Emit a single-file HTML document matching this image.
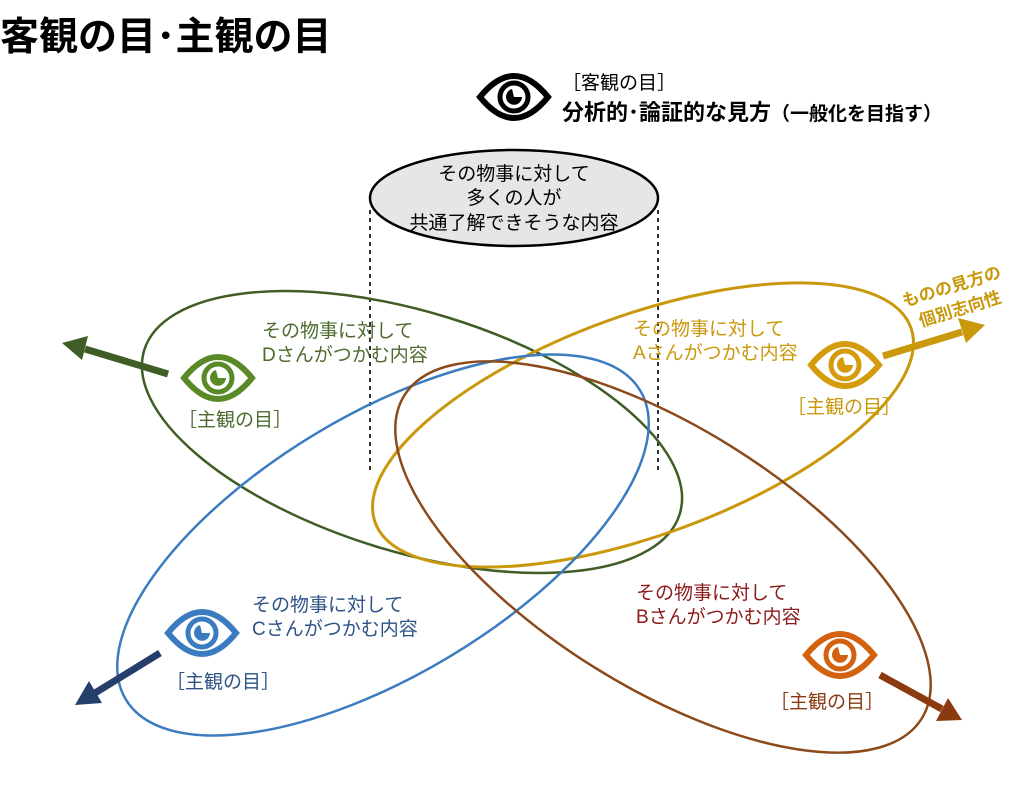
<!DOCTYPE html>
<html><head><meta charset="utf-8"><style>
body{margin:0;width:1024px;height:793px;background:#fff;overflow:hidden}
svg text{font-family:"Liberation Sans","Noto Sans CJK JP",sans-serif}
</style></head><body>
<svg width="1024" height="793" viewBox="0 0 1024 793" xmlns="http://www.w3.org/2000/svg">
<defs>
<g id="eye">
<path d="M-34 0 Q0 -42 34 0 Q0 42 -34 0 Z" fill="none" stroke-width="6"/>
<circle cx="0" cy="0" r="14" fill="none" stroke-width="5"/>
<path d="M-2 -8 A8 8 0 1 0 8 0 L0 0 Z" stroke="none"/>
</g>
</defs>
<text x="0" y="50" font-size="39" font-weight="bold" fill="#000">客観の目･主観の目</text>

<g fill="#000" stroke="#000"><use href="#eye" x="514" y="97"/></g>
<text x="562" y="89" font-size="19" fill="#000">［客観の目］</text>
<text x="562" y="120" font-size="22" font-weight="bold" fill="#000">分析的･論証的な見方<tspan font-size="19">（一般化を目指す）</tspan></text>

<line x1="370" y1="210" x2="370" y2="470" stroke="#000" stroke-width="1.6" stroke-dasharray="4,4"/>
<line x1="658" y1="210" x2="658" y2="470" stroke="#000" stroke-width="1.6" stroke-dasharray="4,4"/>
<ellipse cx="514" cy="198" rx="144" ry="48" fill="#e6e6e6" stroke="#000" stroke-width="2.5"/>
<g font-size="19" fill="#000" text-anchor="middle">
<text x="514" y="180">その物事に対して</text>
<text x="514" y="204">多くの人が</text>
<text x="514" y="229">共通了解できそうな内容</text>
</g>

<ellipse cx="412" cy="432" rx="280" ry="120" transform="rotate(17 412 432)" fill="none" stroke="#3f5d25" stroke-width="2.5"/>
<ellipse cx="643" cy="425" rx="285" ry="110" transform="rotate(-20 643 425)" fill="none" stroke="#c9980c" stroke-width="3"/>
<ellipse cx="383" cy="545" rx="300" ry="130" transform="rotate(-31 383 545)" fill="none" stroke="#3b7cc0" stroke-width="2.5"/>
<ellipse cx="663" cy="557" rx="305" ry="130" transform="rotate(32 663 557)" fill="none" stroke="#8b4a1c" stroke-width="2.5"/>

<g stroke-width="7">
<line x1="168" y1="374" x2="85" y2="349" stroke="#3f5d25"/>
<line x1="883" y1="356" x2="962" y2="332" stroke="#c9980c"/>
<line x1="160" y1="653" x2="95" y2="693" stroke="#253e6b"/>
<line x1="880" y1="675" x2="942" y2="709" stroke="#8b3a10"/>
</g>
<polygon points="62,343 88,336 82,360" fill="#3f5d25"/>
<polygon points="985,325 958,318 966,343" fill="#c9980c"/>
<polygon points="75,705 89,681 102,703" fill="#253e6b"/>
<polygon points="962,720 936,721 948,698" fill="#8b3a10"/>

<g fill="#5a8a28" stroke="#5a8a28"><use href="#eye" x="218" y="378"/></g>
<g fill="#d49c0a" stroke="#d49c0a"><use href="#eye" x="845" y="365"/></g>
<g fill="#3b7cc0" stroke="#3b7cc0"><use href="#eye" x="202" y="633"/></g>
<g fill="#d3620f" stroke="#d3620f"><use href="#eye" x="840" y="655"/></g>

<g font-size="19">
<text x="262" y="337" fill="#4e6b2f">その物事に対して</text>
<text x="262" y="361" fill="#4e6b2f">Dさんがつかむ内容</text>
<text x="178" y="426" fill="#4e6b2f">［主観の目］</text>
<text x="633" y="335" fill="#c9980c">その物事に対して</text>
<text x="633" y="359" fill="#c9980c">Aさんがつかむ内容</text>
<text x="787" y="413" fill="#c9980c">［主観の目］</text>
<text x="252" y="611" fill="#2e5386">その物事に対して</text>
<text x="252" y="635" fill="#2e5386">Cさんがつかむ内容</text>
<text x="166" y="688" fill="#2e5386">［主観の目］</text>
<text x="636" y="599" fill="#8b1a1a">その物事に対して</text>
<text x="636" y="623" fill="#8b1a1a">Bさんがつかむ内容</text>
<text x="770" y="708" fill="#8b3a10">［主観の目］</text>
</g>
<g font-size="17" font-weight="bold" fill="#c9980c" transform="rotate(-17 960 290)">
<text x="902" y="290">ものの見方の</text>
<text x="912" y="314">個別志向性</text>
</g>
</svg>
</body></html>
